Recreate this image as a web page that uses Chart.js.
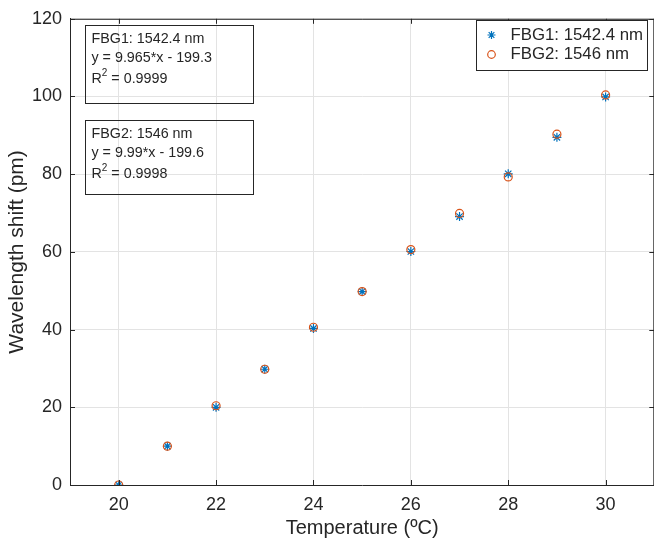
<!DOCTYPE html>
<html>
<head>
<meta charset="utf-8">
<script src="https://cdn.jsdelivr.net/npm/chart.js@4"></script>
<style>
  html, body { margin: 0; padding: 0; background: #fff; overflow: hidden; }
  #wrap { width: 660px; height: 549px; }
</style>
</head>
<body>
<div id="wrap"><canvas id="shiftChart"></canvas></div>
<script>
// data
const temps = [20, 21, 22, 23, 24, 25, 26, 27, 28, 29, 30];
const fbg1Shift = [0, 10, 20, 29.8, 40.3, 49.8, 60.1, 69.1, 80.1, 89.5, 99.9];
const fbg2Shift = [0, 10, 20.4, 29.8, 40.6, 49.8, 60.6, 69.9, 79.3, 90.3, 100.4];
const xTicks = [20, 22, 24, 26, 28, 30];
const yTicks = [0, 20, 40, 60, 80, 100, 120];
const seriesNames = ['FBG1: 1542.4 nm', 'FBG2: 1546 nm'];
const fitNotes = [
  ['FBG1: 1542.4 nm', 'y = 9.965*x - 199.3', '0.9999'],
  ['FBG2: 1546 nm', 'y = 9.99*x - 199.6', '0.9998']
];

const blue = '#0072BD';
const orange = '#D95319';
const ink = '#262626';
const font = '"Liberation Sans", Arial, sans-serif';

function drawStar(ctx, x, y, r, color) {
  ctx.save();
  ctx.strokeStyle = color;
  ctx.lineWidth = 1.2;
  ctx.beginPath();
  for (let i = 0; i < 4; i++) {
    const a = i * Math.PI / 4;
    ctx.moveTo(x - r * Math.cos(a), y - r * Math.sin(a));
    ctx.lineTo(x + r * Math.cos(a), y + r * Math.sin(a));
  }
  ctx.stroke();
  ctx.restore();
}

function drawCircle(ctx, x, y, r, color) {
  ctx.save();
  ctx.strokeStyle = color;
  ctx.lineWidth = 1.2;
  ctx.beginPath();
  ctx.arc(x, y, r, 0, Math.PI * 2);
  ctx.stroke();
  ctx.restore();
}

// box, inward ticks, text boxes and legend
const extras = {
  id: 'extras',
  afterDraw(chart) {
    const ctx = chart.ctx;
    const a = chart.chartArea;
    const xs = chart.scales.x, ys = chart.scales.y;
    ctx.save();
    ctx.strokeStyle = ink;
    ctx.lineWidth = 1;
    ctx.beginPath();
    ctx.moveTo(a.left, a.top + 0.5); ctx.lineTo(a.right, a.top + 0.5);
    ctx.moveTo(a.right - 0.5, a.top); ctx.lineTo(a.right - 0.5, a.bottom);
    xTicks.forEach(v => {
      const px = Math.round(xs.getPixelForValue(v)) + 0.5;
      ctx.moveTo(px, a.bottom); ctx.lineTo(px, a.bottom - 5);
      ctx.moveTo(px, a.top); ctx.lineTo(px, a.top + 5);
    });
    yTicks.forEach(v => {
      const py = Math.round(ys.getPixelForValue(v)) + 0.5;
      ctx.moveTo(a.left, py); ctx.lineTo(a.left + 5, py);
      ctx.moveTo(a.right, py); ctx.lineTo(a.right - 5, py);
    });
    ctx.stroke();

    // fit annotation boxes
    ctx.fillStyle = ink;
    ctx.textBaseline = 'middle';
    ctx.textAlign = 'left';
    const boxX = 85.5, boxW = 168;
    [[25.5, 78], [120.5, 74]].forEach(([top, h], i) => {
      ctx.strokeRect(boxX, top, boxW, h);
      const lines = fitNotes[i];
      const tx = boxX + 6;
      ctx.font = '14.3px ' + font;
      ctx.fillText(lines[0], tx, top + 14);
      ctx.fillText(lines[1], tx, top + 33);
      ctx.fillText('R', tx, top + 54);
      const rw = ctx.measureText('R').width;
      ctx.font = '10px ' + font;
      ctx.fillText('2', tx + rw, top + 48);
      const sw = ctx.measureText('2').width;
      ctx.font = '14.3px ' + font;
      ctx.fillText(' = ' + lines[2], tx + rw + sw, top + 54);
    });

    // legend
    const lx = 476.5, ly = 20.5, lw = 171, lh = 50;
    ctx.fillStyle = '#fff';
    ctx.fillRect(lx, ly, lw, lh);
    ctx.strokeRect(lx, ly, lw, lh);
    ctx.fillStyle = ink;
    ctx.font = '16.8px ' + font;
    drawStar(ctx, lx + 15, ly + 14.5, 4, blue);
    ctx.fillText(seriesNames[0], lx + 34, ly + 15);
    drawCircle(ctx, lx + 15, ly + 34, 3.8, orange);
    ctx.fillText(seriesNames[1], lx + 34, ly + 34);
    ctx.restore();
  }
};

new Chart(document.getElementById('shiftChart'), {
  type: 'scatter',
  data: {
    datasets: [
      {
        label: seriesNames[1],
        data: temps.map((t, i) => ({ x: t, y: fbg2Shift[i] })),
        pointStyle: 'circle',
        pointRadius: 4,
        borderColor: orange,
        backgroundColor: 'rgba(0,0,0,0)',
        borderWidth: 1.2,
      },
      {
        label: seriesNames[0],
        data: temps.map((t, i) => ({ x: t, y: fbg1Shift[i] })),
        pointStyle: 'star',
        pointRadius: 4.5,
        borderColor: blue,
        backgroundColor: blue,
        borderWidth: 1.2,
      },
    ],
  },
  options: {
    responsive: true,
    maintainAspectRatio: false,
    animation: false,
    layout: { padding: { top: 13, right: 3, left: 0, bottom: 0 } },
    plugins: { legend: { display: false }, tooltip: { enabled: false } },
    scales: {
      x: {
        type: 'linear',
        min: 19,
        max: 31,
        afterBuildTicks: s => { s.ticks = xTicks.map(v => ({ value: v })); },
        afterFit: s => { s.height = 64; },
        grid: { color: '#e3e3e3', drawTicks: false },
        border: { display: true, color: ink, width: 1 },
        ticks: { color: ink, font: { family: font, size: 18 }, padding: 9 },
        title: {
          display: true,
          text: 'Temperature (ºC)',
          color: ink,
          font: { family: font, size: 20 },
          padding: { top: 2, bottom: 9 },
        },
      },
      y: {
        min: 0,
        max: 120,
        afterBuildTicks: s => { s.ticks = yTicks.map(v => ({ value: v })); },
        afterFit: s => { s.width = 70; },
        grid: { color: '#e3e3e3', drawTicks: false },
        border: { display: true, color: ink, width: 1 },
        ticks: { color: ink, font: { family: font, size: 18 }, padding: 8 },
        title: {
          display: true,
          text: 'Wavelength shift (pm)',
          color: ink,
          font: { family: font, size: 21 },
          padding: { top: 5, bottom: 0 },
        },
      },
    },
  },
  plugins: [extras],
});
</script>
</body>
</html>
